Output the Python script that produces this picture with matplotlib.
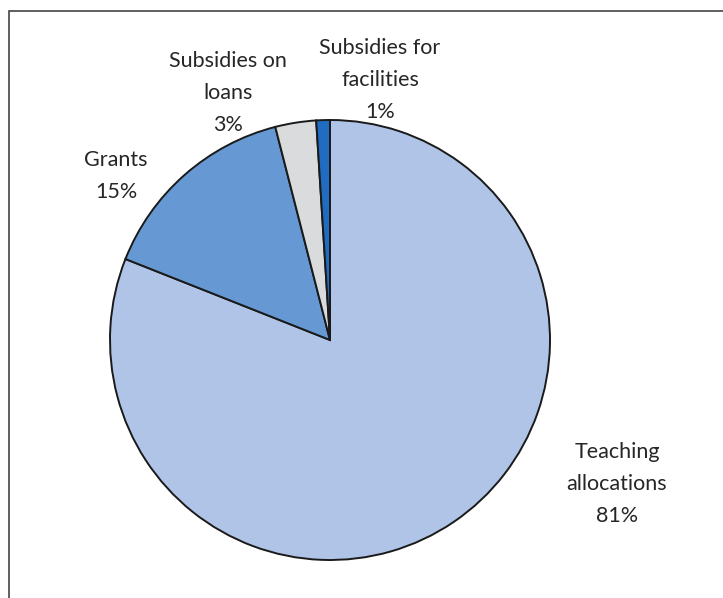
import matplotlib.pyplot as plt
from matplotlib.patches import Rectangle

# funding shares, percent
categories = ["Teaching\nallocations", "Grants", "Subsidies on\nloans", "Subsidies for\nfacilities"]
shares = [81, 15, 3, 1]
colors = ["#AFC4E7", "#6699D3", "#DADBDD", "#1F6CC0"]

# label anchors in figure pixels (x, y from top)
label_pos = [(617, 484), (116, 176), (228, 93), (380, 80)]

W, H = 723, 598
fig = plt.figure(figsize=(W / 100, H / 100), dpi=100)

# outer frame (runs off the right and bottom edges)
fig.patches.append(Rectangle((9 / W, -0.05), 1.1, (H - 11) / H + 0.05,
                             transform=fig.transFigure, fill=False,
                             edgecolor="#444444", linewidth=1.2))

cx, cy, r = 330, 340, 220
ax = fig.add_axes([(cx - r) / W, (H - cy - r) / H, 2 * r / W, 2 * r / H])
ax.pie(shares, colors=colors, startangle=90, counterclock=False, radius=1,
       wedgeprops=dict(edgecolor="#1a1a1a", linewidth=1.4))
ax.set_xlim(-1, 1)
ax.set_ylim(-1, 1)
ax.set_aspect("equal")
ax.axis("off")

for name, val, (x, y) in zip(categories, shares, label_pos):
    fig.text(x / W, 1 - y / H, f"{name}\n{val}%", ha="center", va="center",
             fontsize=15.5, family="Lato", color="#262626", linespacing=1.76)

fig.savefig("out.png", dpi=100)
